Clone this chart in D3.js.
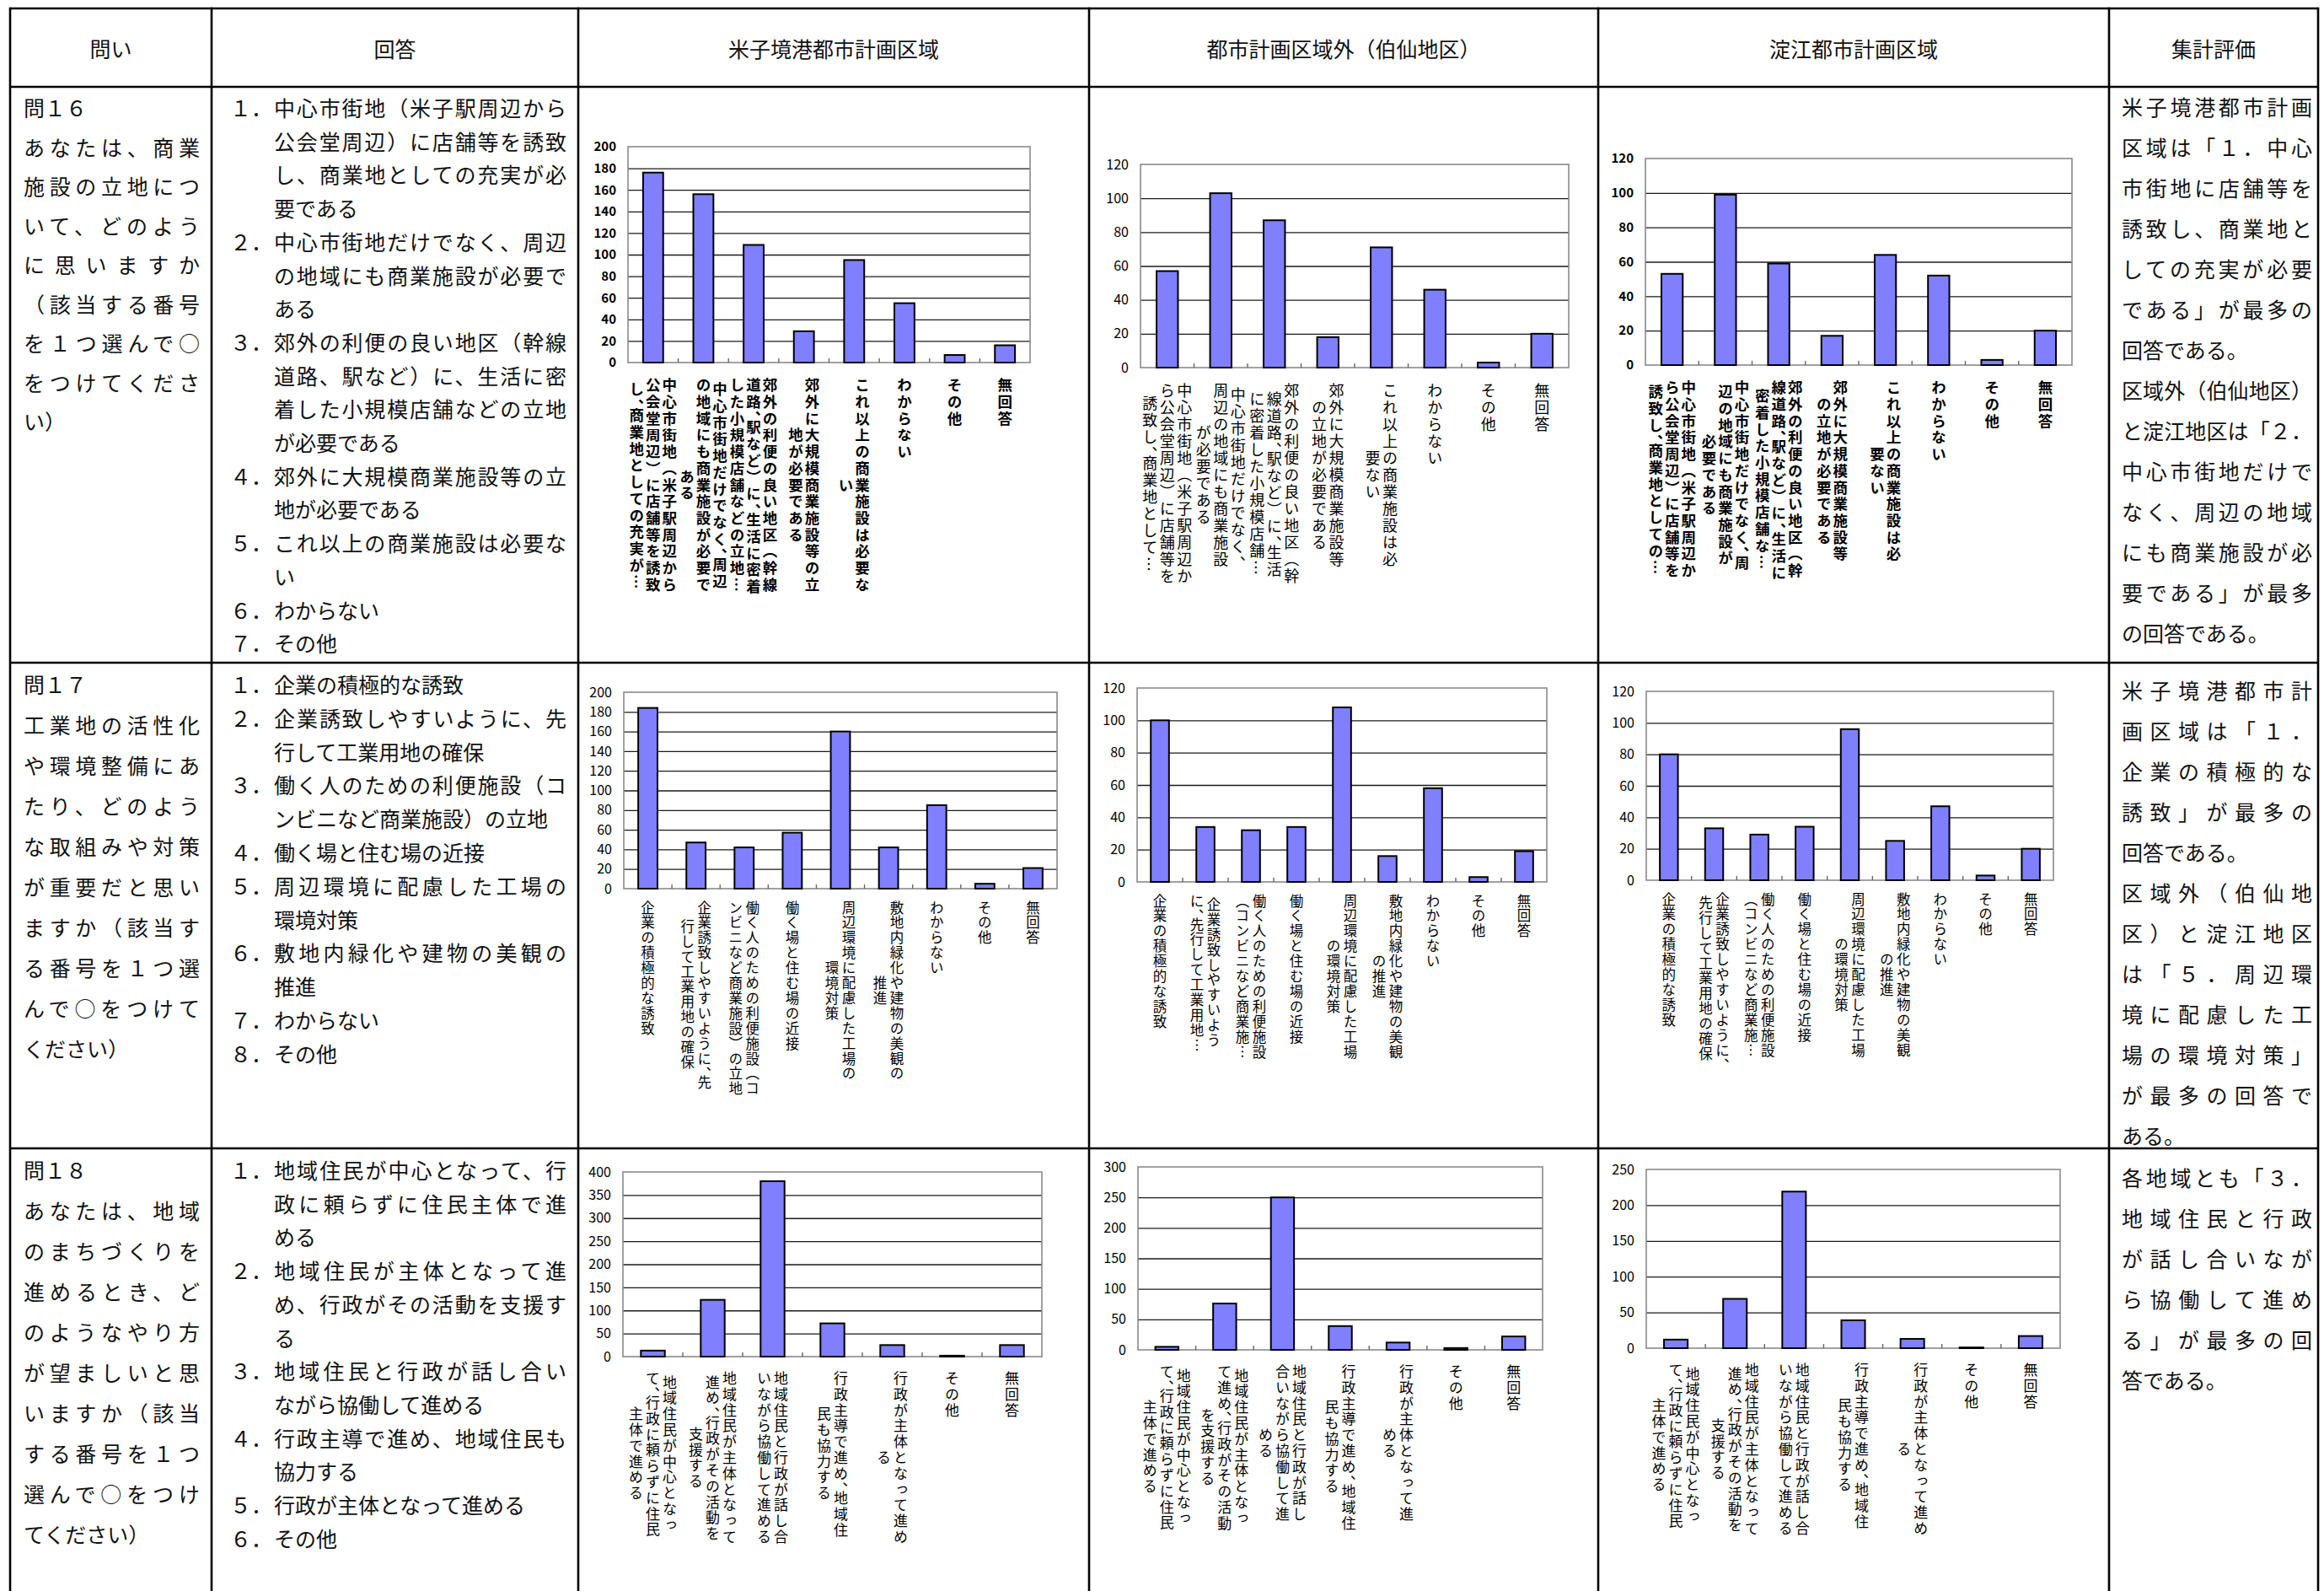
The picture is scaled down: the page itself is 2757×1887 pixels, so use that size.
<!DOCTYPE html>
<html>
<head>
<meta charset="utf-8">
<script src="https://cdn.jsdelivr.net/npm/d3@7"></script>
<style>
html, body { margin: 0; padding: 0; background: #fff; overflow: hidden; }
svg { display: block; font-family: "Noto Sans CJK JP", "Noto Sans", sans-serif; }
.vlabel { writing-mode: vertical-rl; }
.half { font-feature-settings: "vhal" 1; }
</style>
</head>
<body>
<div id="chart"></div>
<script>
// ---------- data ----------
const headers = ["問い", "回答", "米子境港都市計画区域", "都市計画区域外（伯仙地区）", "淀江都市計画区域", "集計評価"];

// question text, paragraphs -> lines
const q16Question = [["問１６"], ["あなたは、商業", "施設の立地につ", "いて、どのよう", "に思いますか", "（該当する番号", "を１つ選んで○", "をつけてくださ", "い）"]];
const q17Question = [["問１７"], ["工業地の活性化", "や環境整備にあ", "たり、どのよう", "な取組みや対策", "が重要だと思い", "ますか（該当す", "る番号を１つ選", "んで○をつけて", "ください）"]];
const q18Question = [["問１８"], ["あなたは、地域", "のまちづくりを", "進めるとき、ど", "のようなやり方", "が望ましいと思", "いますか（該当", "する番号を１つ", "選んで○をつけ", "てください）"]];

const q16Answers = [
  ["中心市街地（米子駅周辺から", "公会堂周辺）に店舗等を誘致", "し、商業地としての充実が必", "要である"],
  ["中心市街地だけでなく、周辺", "の地域にも商業施設が必要で", "ある"],
  ["郊外の利便の良い地区（幹線", "道路、駅など）に、生活に密", "着した小規模店舗などの立地", "が必要である"],
  ["郊外に大規模商業施設等の立", "地が必要である"],
  ["これ以上の商業施設は必要な", "い"],
  ["わからない"],
  ["その他"]
];
const q17Answers = [
  ["企業の積極的な誘致"],
  ["企業誘致しやすいように、先", "行して工業用地の確保"],
  ["働く人のための利便施設（コ", "ンビニなど商業施設）の立地"],
  ["働く場と住む場の近接"],
  ["周辺環境に配慮した工場の", "環境対策"],
  ["敷地内緑化や建物の美観の", "推進"],
  ["わからない"],
  ["その他"]
];
const q18Answers = [
  ["地域住民が中心となって、行", "政に頼らずに住民主体で進", "める"],
  ["地域住民が主体となって進", "め、行政がその活動を支援す", "る"],
  ["地域住民と行政が話し合い", "ながら協働して進める"],
  ["行政主導で進め、地域住民も", "協力する"],
  ["行政が主体となって進める"],
  ["その他"]
];

const q16Summary = [
  ["米子境港都市計画", "区域は「１．中心", "市街地に店舗等を", "誘致し、商業地と", "しての充実が必要", "である」が最多の", "回答である。"],
  ["区域外（伯仙地区）", "と淀江地区は「２．", "中心市街地だけで", "なく、周辺の地域", "にも商業施設が必", "要である」が最多", "の回答である。"]
];
const q17Summary = [
  ["米子境港都市計", "画区域は「１．", "企業の積極的な", "誘致」が最多の", "回答である。"],
  ["区域外（伯仙地", "区）と淀江地区", "は「５．周辺環", "境に配慮した工", "場の環境対策」", "が最多の回答で", "ある。"]
];
const q18Summary = [
  ["各地域とも「３．", "地域住民と行政", "が話し合いなが", "ら協働して進め", "る」が最多の回", "答である。"]
];

// counts per answer
const q16Yonago  = [176, 156, 109, 29, 95, 55, 7, 16];
const q16Hakusen = [57, 103, 87, 18, 71, 46, 3, 20];
const q16Yodoe   = [53, 99, 59, 17, 64, 52, 3, 20];
const q17Yonago  = [184, 47, 42, 57, 160, 42, 85, 5, 21];
const q17Hakusen = [100, 34, 32, 34, 108, 16, 58, 3, 19];
const q17Yodoe   = [80, 33, 29, 34, 96, 25, 47, 3, 20];
const q18Yonago  = [13, 123, 380, 72, 25, 2, 25];
const q18Hakusen = [5, 76, 250, 39, 12, 3, 22];
const q18Yodoe   = [12, 69, 219, 39, 13, 1, 17];

// y tick labels
const ticks200 = [0, 20, 40, 60, 80, 100, 120, 140, 160, 180, 200];
const ticks120 = [0, 20, 40, 60, 80, 100, 120];
const ticks400 = [0, 50, 100, 150, 200, 250, 300, 350, 400];
const ticks300 = [0, 50, 100, 150, 200, 250, 300];
const ticks250 = [0, 50, 100, 150, 200, 250];

// category labels as they wrap in each chart (one string per vertical column)
const q16LabelsYonago = [
  ["中心市街地（米子駅周辺から", "公会堂周辺）に店舗等を誘致", "し、商業地としての充実が…"],
  ["中心市街地だけでなく、周辺", "の地域にも商業施設が必要で", "ある"],
  ["郊外の利便の良い地区（幹線", "道路、駅など）に、生活に密着", "した小規模店舗などの立地…"],
  ["郊外に大規模商業施設等の立", "地が必要である"],
  ["これ以上の商業施設は必要な", "い"],
  ["わからない"], ["その他"], ["無回答"]
];
const q16LabelsHakusen = [
  ["中心市街地（米子駅周辺か", "ら公会堂周辺）に店舗等を", "誘致し、商業地として…"],
  ["中心市街地だけでなく、", "周辺の地域にも商業施設", "が必要である"],
  ["郊外の利便の良い地区（幹", "線道路、駅など）に、生活", "に密着した小規模店舗…"],
  ["郊外に大規模商業施設等", "の立地が必要である"],
  ["これ以上の商業施設は必", "要ない"],
  ["わからない"], ["その他"], ["無回答"]
];
const q16LabelsYodoe = [
  ["中心市街地（米子駅周辺か", "ら公会堂周辺）に店舗等を", "誘致し、商業地としての…"],
  ["中心市街地だけでなく、周", "辺の地域にも商業施設が", "必要である"],
  ["郊外の利便の良い地区（幹", "線道路、駅など）に、生活に", "密着した小規模店舗な…"],
  ["郊外に大規模商業施設等", "の立地が必要である"],
  ["これ以上の商業施設は必", "要ない"],
  ["わからない"], ["その他"], ["無回答"]
];
const q17LabelsYonago = [
  ["企業の積極的な誘致"],
  ["企業誘致しやすいように、先", "行して工業用地の確保"],
  ["働く人のための利便施設（コ", "ンビニなど商業施設）の立地"],
  ["働く場と住む場の近接"],
  ["周辺環境に配慮した工場の", "環境対策"],
  ["敷地内緑化や建物の美観の", "推進"],
  ["わからない"], ["その他"], ["無回答"]
];
const q17LabelsHakusen = [
  ["企業の積極的な誘致"],
  ["企業誘致しやすいよう", "に、先行して工業用地…"],
  ["働く人のための利便施設", "（コンビニなど商業施…"],
  ["働く場と住む場の近接"],
  ["周辺環境に配慮した工場", "の環境対策"],
  ["敷地内緑化や建物の美観", "の推進"],
  ["わからない"], ["その他"], ["無回答"]
];
const q17LabelsYodoe = [
  ["企業の積極的な誘致"],
  ["企業誘致しやすいように、", "先行して工業用地の確保"],
  ["働く人のための利便施設", "（コンビニなど商業施…"],
  ["働く場と住む場の近接"],
  ["周辺環境に配慮した工場", "の環境対策"],
  ["敷地内緑化や建物の美観", "の推進"],
  ["わからない"], ["その他"], ["無回答"]
];
const q18LabelsYonago = [
  ["地域住民が中心となっ", "て、行政に頼らずに住民", "主体で進める"],
  ["地域住民が主体となって", "進め、行政がその活動を", "支援する"],
  ["地域住民と行政が話し合", "いながら協働して進める"],
  ["行政主導で進め、地域住", "民も協力する"],
  ["行政が主体となって進め", "る"],
  ["その他"], ["無回答"]
];
const q18LabelsHakusen = [
  ["地域住民が中心となっ", "て、行政に頼らずに住民", "主体で進める"],
  ["地域住民が主体となっ", "て進め、行政がその活動", "を支援する"],
  ["地域住民と行政が話し", "合いながら協働して進", "める"],
  ["行政主導で進め、地域住", "民も協力する"],
  ["行政が主体となって進", "める"],
  ["その他"], ["無回答"]
];
const q18LabelsYodoe = [
  ["地域住民が中心となっ", "て、行政に頼らずに住民", "主体で進める"],
  ["地域住民が主体となって", "進め、行政がその活動を", "支援する"],
  ["地域住民と行政が話し合", "いながら協働して進める"],
  ["行政主導で進め、地域住", "民も協力する"],
  ["行政が主体となって進め", "る"],
  ["その他"], ["無回答"]
];

// ---------- layout ----------
const W = 2757, H = 1887;
const colX = [12, 251, 686, 1292, 1896, 2502, 2750];
const rowY = [10, 103, 786, 1362];
const FS = 25;

const svg = d3.select("#chart").append("svg").attr("width", W).attr("height", H);
svg.append("rect").attr("width", W).attr("height", H).attr("fill", "#fff");

// table grid
const grid = svg.append("g").attr("stroke", "#000").attr("stroke-width", 2.6);
colX.forEach(x => grid.append("line").attr("x1", x).attr("x2", x).attr("y1", rowY[0] - 1.3).attr("y2", H + 10));
rowY.forEach(y => grid.append("line").attr("x1", colX[0]).attr("x2", colX[6]).attr("y1", y).attr("y2", y));

const txt = svg.append("g").attr("fill", "#111").attr("font-size", FS);

headers.forEach((h, i) => {
  txt.append("text")
    .attr("x", (colX[i] + colX[i + 1]) / 2)
    .attr("y", (rowY[0] + rowY[1]) / 2)
    .attr("text-anchor", "middle")
    .attr("dominant-baseline", "central")
    .text(h);
});

function textLine(x, y, str, width, justify) {
  const t = txt.append("text")
    .attr("x", x).attr("y", y)
    .attr("dominant-baseline", "central")
    .text(str);
  if (justify) t.attr("textLength", width).attr("lengthAdjust", "spacing");
}

// paragraphs: every line but the last one of a paragraph is stretched to the full width
function paragraphs(paras, x, y0, step, width) {
  let i = 0;
  paras.forEach(p => p.forEach((line, j) => {
    textLine(x, y0 + i * step, line, width, j < p.length - 1);
    i++;
  }));
}

function answers(items, y0, step) {
  let i = 0;
  items.forEach((lines, n) => {
    txt.append("text").attr("x", 273).attr("y", y0 + i * step)
      .attr("dominant-baseline", "central")
      .text(String.fromCharCode(0xFF11 + n) + "．");
    lines.forEach((line, j) => {
      textLine(325, y0 + i * step, line, 347, j < lines.length - 1);
      i++;
    });
  });
}

paragraphs(q16Question, 28, 127, 46.5, 209);
paragraphs(q17Question, 28, 811, 48, 209);
paragraphs(q18Question, 28, 1387, 48, 209);

answers(q16Answers, 127, 39.7);
answers(q17Answers, 811, 39.8);
answers(q18Answers, 1387, 39.7);

paragraphs(q16Summary, 2517, 126, 48, 226);
paragraphs(q17Summary, 2517, 818, 48, 226);
paragraphs(q18Summary, 2517, 1396, 48, 226);

// ---------- bar charts ----------
// the ideographic comma only takes half a cell in the chart labels
const slotLen = s => d3.sum(Array.from(s), ch => (ch === "、" ? 0.5 : 1));

function drawChart(values, labels, ticks, box, st) {
  const g = svg.append("g");
  const x = d3.scaleBand().domain(d3.range(values.length))
    .range([box.x0, box.x1]).paddingInner(0.6).paddingOuter(0.3);
  const y = d3.scaleLinear().domain([0, ticks[ticks.length - 1]]).range([box.y1, box.y0]);
  const w = box.x1 - box.x0;

  const gl = g.append("g").attr("transform", `translate(${box.x0},0)`)
    .call(d3.axisLeft(y).tickValues(ticks.slice(1, -1)).tickSize(-w).tickFormat(""));
  gl.select(".domain").remove();
  gl.selectAll("line").attr("stroke", "#1a1a1a").attr("stroke-width", 1.3);

  g.append("rect").attr("x", box.x0).attr("y", box.y0).attr("width", w).attr("height", box.y1 - box.y0)
    .attr("fill", "none").attr("stroke", "#8a8a8a").attr("stroke-width", 1.6);

  const ya = g.append("g").attr("transform", `translate(${box.x0},0)`)
    .call(d3.axisLeft(y).tickValues(ticks).tickSize(0).tickPadding(14));
  ya.select(".domain").remove();
  ya.selectAll("text")
    .attr("font-size", st.tickSize).attr("font-weight", st.bold ? 700 : 400)
    .attr("font-family", "'Noto Sans CJK JP', sans-serif").attr("fill", "#000");

  g.selectAll("line.xt").data(d3.range(1, values.length)).join("line")
    .attr("x1", i => box.x0 + i * x.step()).attr("x2", i => box.x0 + i * x.step())
    .attr("y1", box.y1 - 5).attr("y2", box.y1)
    .attr("stroke", "#666").attr("stroke-width", 1.4);

  g.selectAll("rect.bar").data(values).join("rect")
    .attr("x", (d, i) => x(i)).attr("y", d => y(d))
    .attr("width", x.bandwidth()).attr("height", d => box.y1 - y(d))
    .attr("fill", "#8080ff").attr("stroke", "#000").attr("stroke-width", 2);

  const lg = g.append("g").attr("font-size", st.font).attr("font-weight", st.bold ? 700 : 400).attr("fill", "#000");
  labels.forEach((cols, i) => {
    const cx = x(i) + x.bandwidth() / 2;
    const lens = cols.map(slotLen);
    const m = d3.max(lens);
    cols.forEach((col, j) => {
      const colx = cx + ((cols.length - 1) / 2 - j) * st.colPitch;
      const top = box.y1 + st.top + (m - lens[j]) / 2 * st.charPitch;
      const t = lg.append("text").attr("class", "vlabel")
        .attr("x", colx).attr("y", top)
        .attr("letter-spacing", st.charPitch - st.font);
      col.split(/(、)/).filter(s => s.length).forEach(part => {
        const ts = t.append("tspan").text(part);
        if (part === "、") ts.attr("class", "half");
      });
    });
  });
}

const row1Bold = { font: 17.5, charPitch: 19.7, colPitch: 19.5, top: 18, tickSize: 15, bold: true };
const row1Thin = { font: 18, charPitch: 20, colPitch: 20.5, top: 18, tickSize: 16, bold: false };
const row2 = { font: 16.5, charPitch: 17.9, colPitch: 20, top: 14, tickSize: 16, bold: false };
const row3 = { font: 17, charPitch: 18.8, colPitch: 20, top: 17, tickSize: 16, bold: false };

drawChart(q16Yonago, q16LabelsYonago, ticks200, { x0: 745, x1: 1222, y0: 174, y1: 430 }, row1Bold);
drawChart(q16Hakusen, q16LabelsHakusen, ticks120, { x0: 1353, x1: 1861, y0: 195, y1: 436 }, row1Thin);
drawChart(q16Yodoe, q16LabelsYodoe, ticks120, { x0: 1952, x1: 2458, y0: 188, y1: 433 }, row1Bold);

drawChart(q17Yonago, q17LabelsYonago, ticks200, { x0: 740, x1: 1254, y0: 821, y1: 1054 }, row2);
drawChart(q17Hakusen, q17LabelsHakusen, ticks120, { x0: 1349, x1: 1835, y0: 816, y1: 1046 }, row2);
drawChart(q17Yodoe, q17LabelsYodoe, ticks120, { x0: 1953, x1: 2436, y0: 820, y1: 1044 }, row2);

drawChart(q18Yonago, q18LabelsYonago, ticks400, { x0: 739, x1: 1236, y0: 1390, y1: 1609 }, row3);
drawChart(q18Hakusen, q18LabelsHakusen, ticks300, { x0: 1350, x1: 1830, y0: 1384, y1: 1601 }, row3);
drawChart(q18Yodoe, q18LabelsYodoe, ticks250, { x0: 1953, x1: 2444, y0: 1387, y1: 1599 }, row3);
</script>
</body>
</html>
